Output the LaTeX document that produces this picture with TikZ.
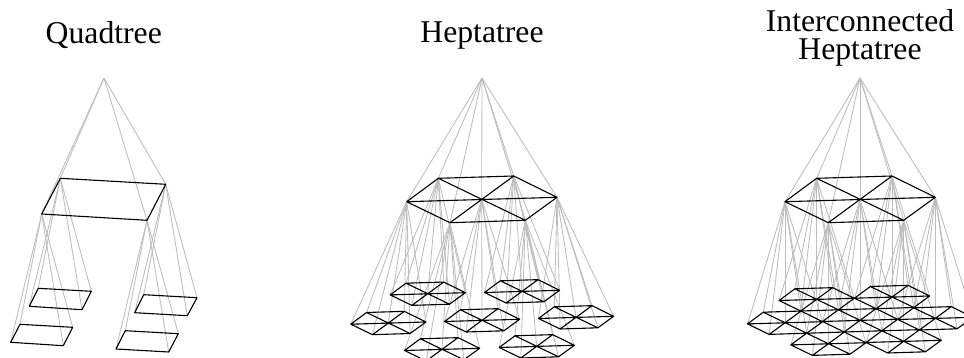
\documentclass[tikz,border=0pt]{standalone}
\usepackage{fontspec}
\setmainfont{Liberation Serif}
\tikzset{
  link/.style={draw=black!26,line width=0.85pt},
  grid/.style={draw=black,line width=1.1pt,line join=round},
  title/.style={font=\fontsize{31.7}{27.6}\selectfont,inner sep=0pt,align=center,anchor=base}
}
% hexagon: name, cx, cy, scale (parent vectors)
\newcommand\hexpts[4]{%
  \coordinate (#1-0) at (#2,#3);
  \coordinate (#1-1) at ({#2-43.4*#4},{#3-21*#4});
  \coordinate (#1-2) at ({#2+32*#4},{#3-23.3*#4});
  \coordinate (#1-3) at ({#2+75.3*#4},{#3-2*#4});
  \coordinate (#1-4) at ({#2+43.6*#4},{#3+21*#4});
  \coordinate (#1-5) at ({#2-31.7*#4},{#3+23.4*#4});
  \coordinate (#1-6) at ({#2-75*#4},{#3+2.4*#4});
}
\newcommand\hexdraw[1]{%
  \draw[grid] (#1-1) -- (#1-2) -- (#1-3) -- (#1-4) -- (#1-5) -- (#1-6) -- cycle
    (#1-1) -- (#1-4) (#1-2) -- (#1-5) (#1-3) -- (#1-6);
}
\newcommand\fanout[2]{%
  \foreach \k in {0,...,6} {\draw[link] (#1) -- (#2-\k);}
}
\newcommand\quadpts[9]{%
  \coordinate (#1-1) at (#2,#3);
  \coordinate (#1-2) at (#4,#5);
  \coordinate (#1-3) at (#6,#7);
  \coordinate (#1-4) at (#8,#9);
}
\newcommand\quaddraw[1]{\draw[grid] (#1-1) -- (#1-2) -- (#1-3) -- (#1-4) -- cycle;}
\newcommand\quadfan[2]{%
  \foreach \k in {1,...,4} {\draw[link] (#1) -- (#2-\k);}
}
\begin{document}
\begin{tikzpicture}[x=1pt,y=-1pt]
\useasboundingbox (0,0) rectangle (964,358);
\clip (0,0) rectangle (964,358);
\fill[white] (0,0) rectangle (964,358);
% titles
\node[title] (tq) at (103.8,43.3) {Quadtree};
\node[title] (th) at (482,42.7) {Heptatree};
\node[title] (ti) at (860,59.3) {Interconnected\\Heptatree};
% Quadtree
\coordinate (qa) at (104,78);
\quadpts{qt}{60.3}{178.3}{165.7}{184.3}{147}{220.3}{41.7}{214}
\quadpts{qA}{38.3}{288.3}{91.3}{291.3}{82}{309.7}{29.3}{306.3}
\quadpts{qB}{20}{324.3}{72.7}{327.3}{63.3}{345.7}{10.7}{342.3}
\quadpts{qC}{143.7}{294.7}{197}{297.7}{187.3}{315.7}{134.7}{312.7}
\quadpts{qD}{125.3}{330.7}{178.3}{333.7}{168.7}{352}{116}{349}
\quadfan{qa}{qt}
\quadfan{qt-1}{qA}
\quadfan{qt-4}{qB}
\quadfan{qt-2}{qC}
\quadfan{qt-3}{qD}
\quaddraw{qA}\quaddraw{qB}\quaddraw{qC}\quaddraw{qD}\quaddraw{qt}
% Heptatree
\coordinate (ha) at (482,78);
\hexpts{h}{481.7}{199.3}{1}
\hexpts{hU}{427.7}{293.7}{0.5}
\hexpts{hV}{522}{291.3}{0.5}
\hexpts{hL}{388.3}{323}{0.5}
\hexpts{hC}{482}{320.3}{0.5}
\hexpts{hR}{576}{317.3}{0.5}
\hexpts{hX}{442}{349.3}{0.5}
\hexpts{hY}{536.7}{346.3}{0.5}
\foreach \k in {0,...,6} {\draw[link] (ha) -- (h-\k);}
\fanout{h-1}{hU}
\fanout{h-2}{hV}
\fanout{h-6}{hL}
\fanout{h-0}{hC}
\fanout{h-3}{hR}
\fanout{h-5}{hX}
\fanout{h-4}{hY}
\hexdraw{hU}\hexdraw{hV}\hexdraw{hL}\hexdraw{hC}\hexdraw{hR}\hexdraw{hX}\hexdraw{hY}\hexdraw{h}
% Interconnected Heptatree
\coordinate (ia) at (860,78);
\hexpts{i}{860}{199.3}{1}
\hexpts{iC}{860}{320.3}{0.5}
\hexpts{iU}{816.6}{299.3}{0.5}
\hexpts{iV}{892}{297}{0.5}
\hexpts{iR}{935.3}{318.3}{0.5}
\hexpts{iY}{903.6}{341.3}{0.5}
\hexpts{iX}{828.3}{343.7}{0.5}
\hexpts{iL}{785}{322.7}{0.5}
\foreach \k in {0,...,6} {\draw[link] (ia) -- (i-\k);}
\fanout{i-1}{iU}
\fanout{i-2}{iV}
\fanout{i-6}{iL}
\fanout{i-0}{iC}
\fanout{i-3}{iR}
\fanout{i-5}{iX}
\fanout{i-4}{iY}
\hexdraw{iU}\hexdraw{iV}\hexdraw{iL}\hexdraw{iC}\hexdraw{iR}\hexdraw{iX}\hexdraw{iY}\hexdraw{i}
\end{tikzpicture}
\end{document}
